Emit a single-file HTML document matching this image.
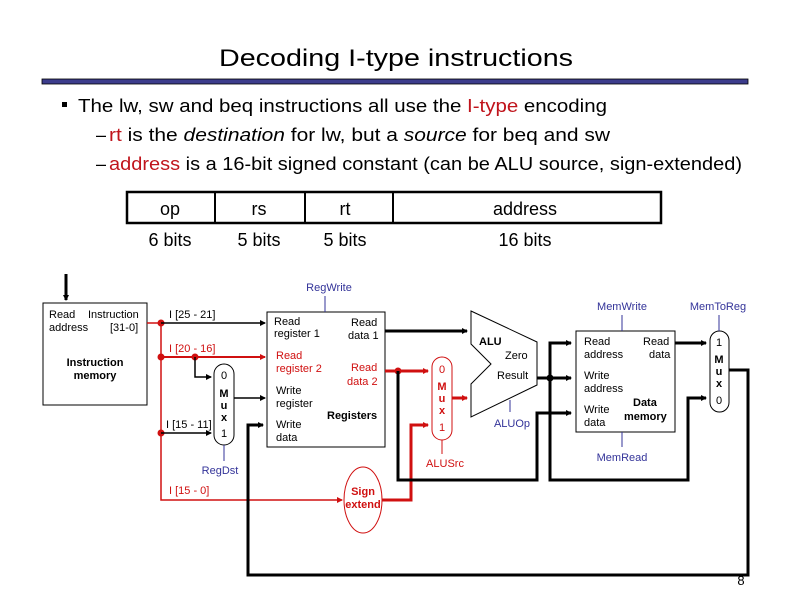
<!DOCTYPE html>
<html><head><meta charset="utf-8"><style>
html,body{margin:0;padding:0;background:#fff;}
svg{display:block;}
text{font-family:"Liberation Sans",Arial,sans-serif;}
</style></head><body>
<svg width="792" height="612" viewBox="0 0 792 612" xmlns="http://www.w3.org/2000/svg">
<defs>
<marker id="ab" markerWidth="6" markerHeight="6" refX="5" refY="3" orient="auto" markerUnits="userSpaceOnUse"><path d="M0,0 L6,3 L0,6 z" fill="#000"/></marker>
<marker id="ar" markerWidth="6" markerHeight="6" refX="5" refY="3" orient="auto" markerUnits="userSpaceOnUse"><path d="M0,0 L6,3 L0,6 z" fill="#d01010"/></marker>
</defs>
<!-- title -->
<text x="396" y="66" font-size="24" text-anchor="middle" textLength="354" lengthAdjust="spacingAndGlyphs" font-family="DejaVu Sans Condensed, DejaVu Sans, sans-serif">Decoding I-type instructions</text>
<rect x="42" y="79" width="706" height="5" fill="#3c3c8c" stroke="#000" stroke-width="0.8"/>
<!-- bullets -->
<rect x="62" y="102" width="5" height="5" fill="#000"/>
<text x="78" y="112" font-size="18" textLength="529" lengthAdjust="spacingAndGlyphs">The lw, sw and beq instructions all use the <tspan fill="#c0141c">I-type</tspan> encoding</text>
<text x="96" y="141" font-size="18">–</text>
<text x="109" y="141" font-size="18" textLength="501" lengthAdjust="spacingAndGlyphs"><tspan fill="#c0141c">rt</tspan> is the <tspan font-style="italic">destination</tspan> for lw, but a <tspan font-style="italic">source</tspan> for beq and sw</text>
<text x="96" y="170" font-size="18">–</text>
<text x="109" y="170" font-size="18" textLength="633" lengthAdjust="spacingAndGlyphs"><tspan fill="#c0141c">address</tspan> is a 16-bit signed constant (can be ALU source, sign-extended)</text>
<!-- field box -->
<rect x="127" y="192" width="534" height="31" fill="none" stroke="#000" stroke-width="2.5"/>
<line x1="215" y1="192" x2="215" y2="223" stroke="#000" stroke-width="2"/>
<line x1="305" y1="192" x2="305" y2="223" stroke="#000" stroke-width="2"/>
<line x1="393" y1="192" x2="393" y2="223" stroke="#000" stroke-width="2"/>
<g font-size="18" text-anchor="middle">
<text x="170" y="215">op</text><text x="259" y="215">rs</text><text x="345" y="215">rt</text><text x="525" y="215">address</text>
<text x="170" y="246">6 bits</text><text x="259" y="246">5 bits</text><text x="345" y="246">5 bits</text><text x="525" y="246">16 bits</text>
</g>
<!-- instruction memory -->
<line x1="66" y1="274" x2="66" y2="300" stroke="#000" stroke-width="3" marker-end="url(#ab)"/>
<rect x="43" y="303" width="104" height="102" fill="#fff" stroke="#000" stroke-width="1"/>
<g font-size="11">
<text x="49" y="318">Read</text><text x="88" y="318">Instruction</text>
<text x="49" y="331">address</text><text x="110" y="331">[31-0]</text>
<text x="95" y="366" text-anchor="middle" font-weight="bold">Instruction</text>
<text x="95" y="379" text-anchor="middle" font-weight="bold">memory</text>
</g>
<!-- red bus -->
<g stroke="#d01010" stroke-width="1.5" fill="none">
<polyline points="147,323 161,323 161,500 342,500" marker-end="url(#ar)"/>
<line x1="161" y1="357" x2="265" y2="357" stroke-width="2" marker-end="url(#ar)"/>
</g>
<g fill="#d01010">
<circle cx="161" cy="323" r="3.5"/><circle cx="161" cy="357" r="3.5"/><circle cx="161" cy="433" r="3.5"/><circle cx="195" cy="357" r="3.5"/>
</g>
<g stroke="#000" stroke-width="1.5" fill="none">
<line x1="161" y1="323" x2="265" y2="323" marker-end="url(#ab)"/>
<polyline points="195,357 195,377 211,377" marker-end="url(#ab)"/>
<line x1="161" y1="433" x2="211" y2="433" marker-end="url(#ab)"/>
<line x1="234" y1="398" x2="265" y2="398" marker-end="url(#ab)"/>
</g>
<g font-size="11">
<text x="169" y="318">I [25 - 21]</text>
<text x="169" y="352" fill="#d01010">I [20 - 16]</text>
<text x="166" y="428">I [15 - 11]</text>
<text x="169" y="494" fill="#d01010">I [15 - 0]</text>
</g>
<!-- RegDst mux -->
<rect x="214" y="364" width="20" height="81" rx="10" fill="#fff" stroke="#000" stroke-width="1"/>
<g font-size="11" text-anchor="middle"><text x="224" y="379">0</text><text x="224" y="397" font-weight="bold">M</text><text x="224" y="409" font-weight="bold">u</text><text x="224" y="421" font-weight="bold">x</text><text x="224" y="437">1</text></g>
<line x1="224" y1="445" x2="224" y2="461" stroke="#333399" stroke-width="1"/>
<text x="220" y="474" font-size="11" fill="#333399" text-anchor="middle">RegDst</text>
<!-- registers -->
<rect x="267" y="312" width="118" height="135" fill="#fff" stroke="#000" stroke-width="1"/>
<line x1="325" y1="296" x2="325" y2="312" stroke="#333399" stroke-width="1"/>
<text x="329" y="291" font-size="11" fill="#333399" text-anchor="middle">RegWrite</text>
<g font-size="11">
<text x="274" y="325">Read</text><text x="274" y="337">register 1</text>
<text x="351" y="326">Read</text><text x="348" y="339">data 1</text>
<text x="276" y="359" fill="#d01010">Read</text><text x="276" y="372" fill="#d01010">register 2</text>
<text x="351" y="371" fill="#d01010">Read</text><text x="347" y="385" fill="#d01010">data 2</text>
<text x="276" y="394">Write</text><text x="276" y="407">register</text>
<text x="327" y="419" font-weight="bold">Registers</text>
<text x="276" y="428">Write</text><text x="276" y="441">data</text>
</g>
<!-- sign extend -->
<ellipse cx="363" cy="500" rx="19" ry="33" fill="#fff" stroke="#d01010" stroke-width="1"/>
<text x="363" y="495" font-size="11" fill="#d01010" font-weight="bold" text-anchor="middle">Sign</text>
<text x="363" y="508" font-size="11" fill="#d01010" font-weight="bold" text-anchor="middle">extend</text>
<!-- red datapaths -->
<g stroke="#d01010" stroke-width="3" fill="none">
<polyline points="382,500 411,500 411,425 428,425" marker-end="url(#ar)"/>
<line x1="385" y1="371" x2="428" y2="371" marker-end="url(#ar)"/>
<line x1="452" y1="398" x2="467" y2="398" marker-end="url(#ar)"/>
</g>
<circle cx="398" cy="371" r="3.5" fill="#d01010"/>
<!-- black thick datapaths -->
<g stroke="#000" stroke-width="3" fill="none">
<line x1="385" y1="331" x2="467" y2="331" marker-end="url(#ab)"/>
<polyline points="398,371 398,480 537,480 537,413 571,413" marker-end="url(#ab)"/>
<line x1="537" y1="378" x2="571" y2="378" marker-end="url(#ab)"/>
<polyline points="550,378 550,343 571,343" marker-end="url(#ab)"/>
<polyline points="550,378 550,480 688,480 688,398 706,398" marker-end="url(#ab)"/>
<line x1="675" y1="343" x2="706" y2="343" marker-end="url(#ab)"/>
<polyline points="729,370 748,370 748,575 248,575 248,425 263,425" marker-end="url(#ab)"/>
</g>
<circle cx="550" cy="378" r="3.5" fill="#000"/>
<!-- ALUSrc mux -->
<rect x="432" y="357" width="20" height="83" rx="10" fill="#fff" stroke="#d01010" stroke-width="1"/>
<g font-size="11" text-anchor="middle" fill="#d01010"><text x="442" y="373">0</text><text x="442" y="390" font-weight="bold">M</text><text x="442" y="402" font-weight="bold">u</text><text x="442" y="414" font-weight="bold">x</text><text x="442" y="431">1</text></g>
<line x1="442" y1="440" x2="442" y2="454" stroke="#d01010" stroke-width="1"/>
<text x="445" y="467" font-size="11" fill="#d01010" text-anchor="middle">ALUSrc</text>
<!-- ALU -->
<polygon points="471,311 537,342 537,385 471,417 471,384 491,364 471,344" fill="#fff" stroke="#000" stroke-width="1"/>
<g font-size="11">
<text x="479" y="345" font-weight="bold">ALU</text>
<text x="505" y="359">Zero</text>
<text x="497" y="379">Result</text>
</g>
<line x1="510" y1="400" x2="510" y2="412" stroke="#333399" stroke-width="1"/>
<text x="512" y="427" font-size="11" fill="#333399" text-anchor="middle">ALUOp</text>
<!-- data memory -->
<rect x="576" y="331" width="99" height="101" fill="#fff" stroke="#000" stroke-width="1"/>
<line x1="622" y1="315" x2="622" y2="331" stroke="#333399" stroke-width="1"/>
<line x1="622" y1="432" x2="622" y2="447" stroke="#333399" stroke-width="1"/>
<text x="622" y="310" font-size="11" fill="#333399" text-anchor="middle">MemWrite</text>
<text x="622" y="461" font-size="11" fill="#333399" text-anchor="middle">MemRead</text>
<g font-size="11">
<text x="584" y="345">Read</text><text x="584" y="358">address</text>
<text x="643" y="345">Read</text><text x="649" y="358">data</text>
<text x="584" y="379">Write</text><text x="584" y="392">address</text>
<text x="584" y="413">Write</text><text x="584" y="426">data</text>
<text x="633" y="406" font-weight="bold">Data</text><text x="624" y="420" font-weight="bold">memory</text>
</g>
<!-- MemToReg mux -->
<rect x="710" y="331" width="19" height="81" rx="9.5" fill="#fff" stroke="#000" stroke-width="1"/>
<g font-size="11" text-anchor="middle"><text x="719" y="346">1</text><text x="719" y="363" font-weight="bold">M</text><text x="719" y="375" font-weight="bold">u</text><text x="719" y="387" font-weight="bold">x</text><text x="719" y="404">0</text></g>
<line x1="719" y1="315" x2="719" y2="331" stroke="#333399" stroke-width="1"/>
<text x="718" y="310" font-size="11" fill="#333399" text-anchor="middle">MemToReg</text>
<text x="741" y="585" font-size="13" text-anchor="middle">8</text>
</svg>
</body></html>
